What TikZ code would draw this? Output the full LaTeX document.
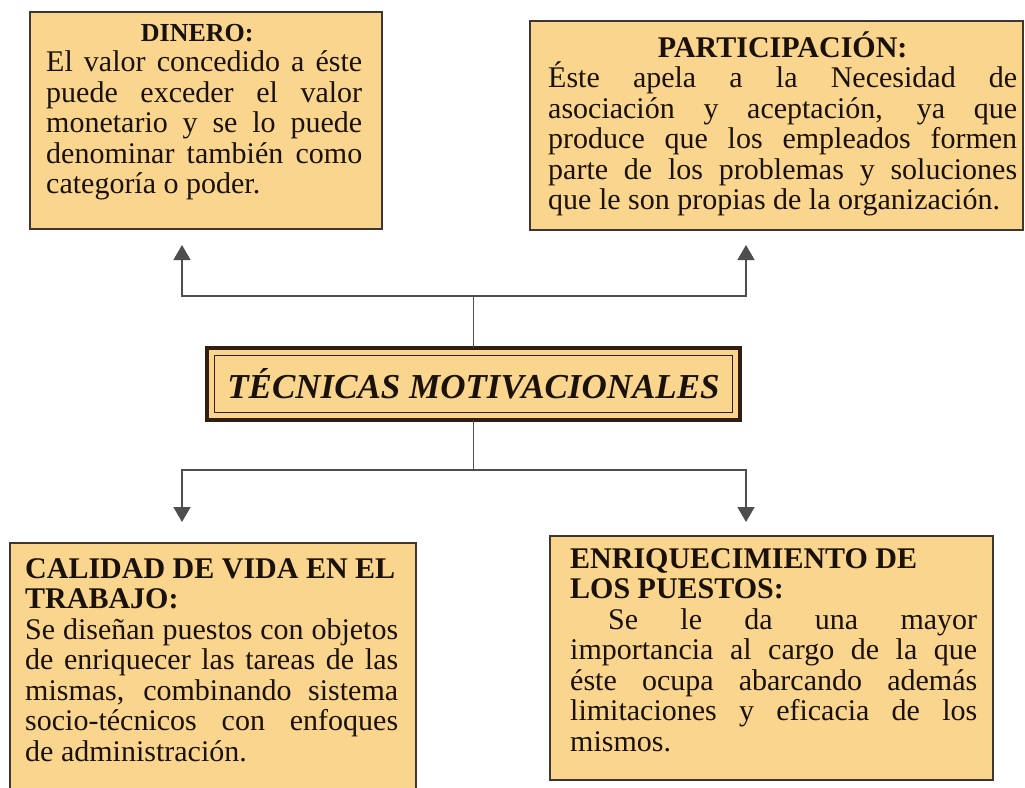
\documentclass[tikz,border=0pt]{standalone}
\usepackage{fontspec}
\setmainfont{Liberation Serif}
\usetikzlibrary{arrows.meta}
\definecolor{peach}{RGB}{249,213,141}
\definecolor{edge}{RGB}{62,54,48}
\definecolor{ink}{RGB}{26,17,10}
\definecolor{wire}{RGB}{78,78,78}
\definecolor{brownedge}{RGB}{48,30,16}
\newcommand{\jstretch}[2]{\makebox[#1][s]{#2}}
\newcommand{\jleft}[2]{\makebox[#1][l]{#2}}
\newcommand{\jmid}[2]{\makebox[#1][c]{#2}}
\newcommand{\topstrut}{\rule{0pt}{28pt}}
\tikzset{
  box/.style={draw=edge, line width=1.6pt, fill=peach, anchor=north west, inner sep=0pt, outer sep=0pt},
  txt/.style={anchor=north west, inner sep=0pt, align=left, text=ink, font=\fontsize{30}{30.5}\selectfont},
  conn/.style={draw=wire, line width=1.5pt},
  tip/.style={-{Triangle[width=17pt,length=15pt]}}
}
\begin{document}
\begin{tikzpicture}[x=1pt,y=-1pt]
\clip (0,0) rectangle (1025,787);
\fill[white] (0,0) rectangle (1025,787);

% boxes
\node[box, minimum width=352pt, minimum height=217pt] (dinero) at (30,12) {};
\node[box, minimum width=493pt, minimum height=209pt] (partic) at (530,21) {};
\node[box, minimum width=406pt, minimum height=260pt] (calidad) at (10,543) {};
\node[box, minimum width=443pt, minimum height=244pt] (enriq) at (550,536) {};

% texts
\node[txt] (dinerot) at (46,13) {\topstrut\jmid{302pt}{\fontsize{26}{30.5}\selectfont\textbf{DINERO:}}\\
\jstretch{316pt}{El valor concedido a éste}\\
\jstretch{316pt}{puede exceder el valor}\\
\jstretch{316pt}{monetario y se lo puede}\\
\jstretch{316pt}{denominar también como}\\
\jleft{316pt}{categoría o poder.}};

\node[txt] (partict) at (548,29) {\topstrut\jmid{469pt}{\textbf{PARTICIPACIÓN:}}\\
\jstretch{469pt}{Éste apela a la Necesidad de}\\
\jstretch{469pt}{asociación y aceptación, ya que}\\
\jstretch{469pt}{produce que los empleados formen}\\
\jstretch{469pt}{parte de los problemas y soluciones}\\
\jleft{469pt}{que le son propias de la organización.}};

\node[txt] (calidadt) at (25,550) {\topstrut\jleft{373pt}{\textbf{CALIDAD DE VIDA EN EL}}\\
\jleft{373pt}{\textbf{TRABAJO:}}\\
\jstretch{373pt}{Se diseñan puestos con objetos}\\
\jstretch{373pt}{de enriquecer las tareas de las}\\
\jstretch{373pt}{mismas, combinando sistema}\\
\jstretch{373pt}{socio-técnicos con enfoques}\\
\jleft{373pt}{de administración.}};

\node[txt] (enriqt) at (570,540) {\topstrut\jleft{407pt}{\textbf{ENRIQUECIMIENTO DE}}\\
\jleft{407pt}{\textbf{LOS PUESTOS:}}\\
\jstretch{407pt}{\hspace*{38pt}Se le da una mayor}\\
\jstretch{407pt}{importancia al cargo de la que}\\
\jstretch{407pt}{éste ocupa abarcando además}\\
\jstretch{407pt}{limitaciones y eficacia de los}\\
\jleft{407pt}{mismos.}};

% central node
\node[draw=brownedge, line width=4.5pt, fill=peach, anchor=north west, inner sep=0pt, outer sep=0pt,
      minimum width=533pt, minimum height=72pt, text=ink,
      font=\fontsize{35}{40}\selectfont\bfseries\itshape] (tec) at (207,348) {TÉCNICAS MOTIVACIONALES};
\draw[brownedge, line width=1.5pt] ([shift={(7.5,7.5)}]tec.north west) rectangle ([shift={(-7.5,-7.5)}]tec.south east);

% connectors
\coordinate (ht) at (0,296);
\coordinate (hb) at (0,470);
\coordinate (jt) at (tec.north |- ht);
\coordinate (jb) at (tec.south |- hb);
\coordinate (tl) at (182,245);
\coordinate (tr) at (746,245);
\coordinate (bl) at (182,522);
\coordinate (br) at (746,522);
\draw[conn] (tec.north) -- (jt);
\draw[conn,tip] (jt) -| (tl);
\draw[conn,tip] (jt) -| (tr);
\draw[conn] (tec.south) -- (jb);
\draw[conn,tip] (jb) -| (bl);
\draw[conn,tip] (jb) -| (br);
\end{tikzpicture}
\end{document}
